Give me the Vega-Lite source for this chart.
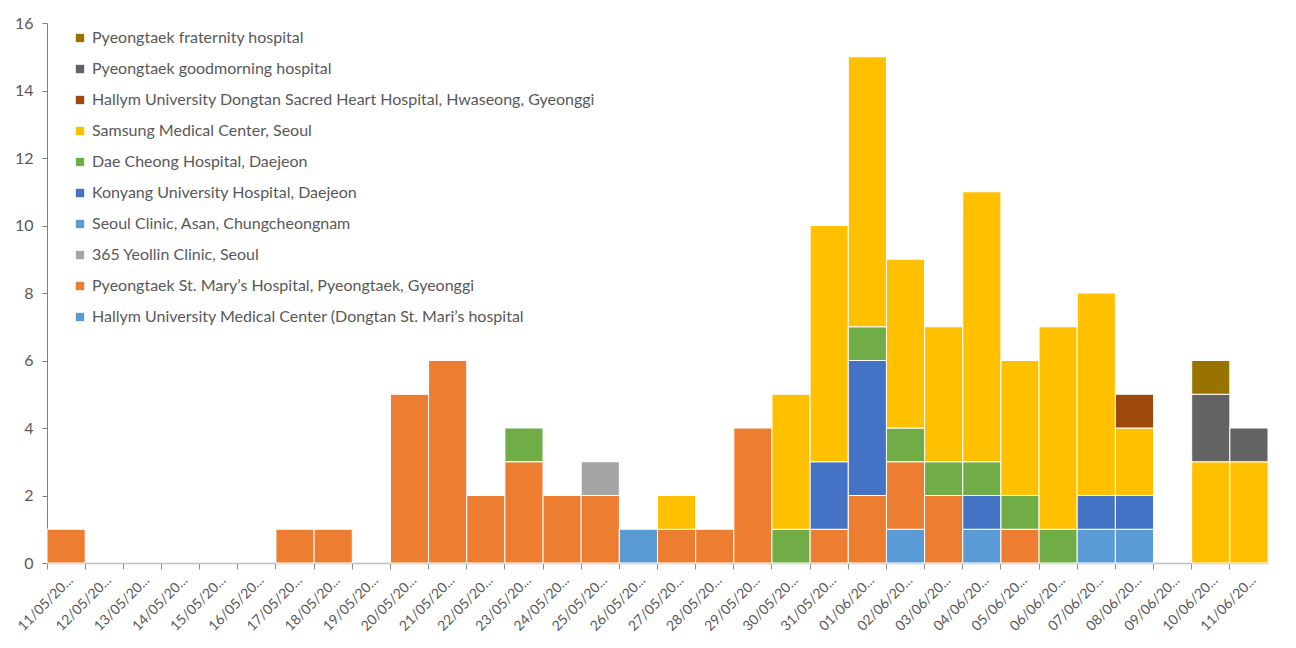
{
  "$schema": "https://vega.github.io/schema/vega-lite/v6.json",
  "width": 1221,
  "height": 540,
  "autosize": "none",
  "padding": {"left": 47, "top": 23, "right": 28, "bottom": 85},
  "background": "white",
  "config": {"view": {"stroke": null}, "font": "Lato"},
  "data": {"values": [
    {"date": "11/05/2015", "hospital": "Pyeongtaek St. Mary’s Hospital, Pyeongtaek, Gyeonggi", "n": 1},
    {"date": "17/05/2015", "hospital": "Pyeongtaek St. Mary’s Hospital, Pyeongtaek, Gyeonggi", "n": 1},
    {"date": "18/05/2015", "hospital": "Pyeongtaek St. Mary’s Hospital, Pyeongtaek, Gyeonggi", "n": 1},
    {"date": "20/05/2015", "hospital": "Pyeongtaek St. Mary’s Hospital, Pyeongtaek, Gyeonggi", "n": 5},
    {"date": "21/05/2015", "hospital": "Pyeongtaek St. Mary’s Hospital, Pyeongtaek, Gyeonggi", "n": 6},
    {"date": "22/05/2015", "hospital": "Pyeongtaek St. Mary’s Hospital, Pyeongtaek, Gyeonggi", "n": 2},
    {"date": "23/05/2015", "hospital": "Pyeongtaek St. Mary’s Hospital, Pyeongtaek, Gyeonggi", "n": 3},
    {"date": "23/05/2015", "hospital": "Dae Cheong Hospital, Daejeon", "n": 1},
    {"date": "24/05/2015", "hospital": "Pyeongtaek St. Mary’s Hospital, Pyeongtaek, Gyeonggi", "n": 2},
    {"date": "25/05/2015", "hospital": "Pyeongtaek St. Mary’s Hospital, Pyeongtaek, Gyeonggi", "n": 2},
    {"date": "25/05/2015", "hospital": "365 Yeollin Clinic, Seoul", "n": 1},
    {"date": "26/05/2015", "hospital": "Hallym University Medical Center (Dongtan St. Mari’s hospital", "n": 1},
    {"date": "27/05/2015", "hospital": "Pyeongtaek St. Mary’s Hospital, Pyeongtaek, Gyeonggi", "n": 1},
    {"date": "27/05/2015", "hospital": "Samsung Medical Center, Seoul", "n": 1},
    {"date": "28/05/2015", "hospital": "Pyeongtaek St. Mary’s Hospital, Pyeongtaek, Gyeonggi", "n": 1},
    {"date": "29/05/2015", "hospital": "Pyeongtaek St. Mary’s Hospital, Pyeongtaek, Gyeonggi", "n": 4},
    {"date": "30/05/2015", "hospital": "Dae Cheong Hospital, Daejeon", "n": 1},
    {"date": "30/05/2015", "hospital": "Samsung Medical Center, Seoul", "n": 4},
    {"date": "31/05/2015", "hospital": "Pyeongtaek St. Mary’s Hospital, Pyeongtaek, Gyeonggi", "n": 1},
    {"date": "31/05/2015", "hospital": "Konyang University Hospital, Daejeon", "n": 2},
    {"date": "31/05/2015", "hospital": "Samsung Medical Center, Seoul", "n": 7},
    {"date": "01/06/2015", "hospital": "Pyeongtaek St. Mary’s Hospital, Pyeongtaek, Gyeonggi", "n": 2},
    {"date": "01/06/2015", "hospital": "Konyang University Hospital, Daejeon", "n": 4},
    {"date": "01/06/2015", "hospital": "Dae Cheong Hospital, Daejeon", "n": 1},
    {"date": "01/06/2015", "hospital": "Samsung Medical Center, Seoul", "n": 8},
    {"date": "02/06/2015", "hospital": "Hallym University Medical Center (Dongtan St. Mari’s hospital", "n": 1},
    {"date": "02/06/2015", "hospital": "Pyeongtaek St. Mary’s Hospital, Pyeongtaek, Gyeonggi", "n": 2},
    {"date": "02/06/2015", "hospital": "Dae Cheong Hospital, Daejeon", "n": 1},
    {"date": "02/06/2015", "hospital": "Samsung Medical Center, Seoul", "n": 5},
    {"date": "03/06/2015", "hospital": "Pyeongtaek St. Mary’s Hospital, Pyeongtaek, Gyeonggi", "n": 2},
    {"date": "03/06/2015", "hospital": "Dae Cheong Hospital, Daejeon", "n": 1},
    {"date": "03/06/2015", "hospital": "Samsung Medical Center, Seoul", "n": 4},
    {"date": "04/06/2015", "hospital": "Hallym University Medical Center (Dongtan St. Mari’s hospital", "n": 1},
    {"date": "04/06/2015", "hospital": "Konyang University Hospital, Daejeon", "n": 1},
    {"date": "04/06/2015", "hospital": "Dae Cheong Hospital, Daejeon", "n": 1},
    {"date": "04/06/2015", "hospital": "Samsung Medical Center, Seoul", "n": 8},
    {"date": "05/06/2015", "hospital": "Pyeongtaek St. Mary’s Hospital, Pyeongtaek, Gyeonggi", "n": 1},
    {"date": "05/06/2015", "hospital": "Dae Cheong Hospital, Daejeon", "n": 1},
    {"date": "05/06/2015", "hospital": "Samsung Medical Center, Seoul", "n": 4},
    {"date": "06/06/2015", "hospital": "Dae Cheong Hospital, Daejeon", "n": 1},
    {"date": "06/06/2015", "hospital": "Samsung Medical Center, Seoul", "n": 6},
    {"date": "07/06/2015", "hospital": "Hallym University Medical Center (Dongtan St. Mari’s hospital", "n": 1},
    {"date": "07/06/2015", "hospital": "Konyang University Hospital, Daejeon", "n": 1},
    {"date": "07/06/2015", "hospital": "Samsung Medical Center, Seoul", "n": 6},
    {"date": "08/06/2015", "hospital": "Hallym University Medical Center (Dongtan St. Mari’s hospital", "n": 1},
    {"date": "08/06/2015", "hospital": "Konyang University Hospital, Daejeon", "n": 1},
    {"date": "08/06/2015", "hospital": "Samsung Medical Center, Seoul", "n": 2},
    {"date": "08/06/2015", "hospital": "Hallym University Dongtan Sacred Heart Hospital, Hwaseong, Gyeonggi", "n": 1},
    {"date": "10/06/2015", "hospital": "Samsung Medical Center, Seoul", "n": 3},
    {"date": "10/06/2015", "hospital": "Pyeongtaek goodmorning hospital", "n": 2},
    {"date": "10/06/2015", "hospital": "Pyeongtaek fraternity hospital", "n": 1},
    {"date": "11/06/2015", "hospital": "Samsung Medical Center, Seoul", "n": 3},
    {"date": "11/06/2015", "hospital": "Pyeongtaek goodmorning hospital", "n": 1}
  ]},
  "transform": [
    {"calculate": "indexof(['Pyeongtaek fraternity hospital','Pyeongtaek goodmorning hospital','Hallym University Dongtan Sacred Heart Hospital, Hwaseong, Gyeonggi','Samsung Medical Center, Seoul','Dae Cheong Hospital, Daejeon','Konyang University Hospital, Daejeon','Seoul Clinic, Asan, Chungcheongnam','365 Yeollin Clinic, Seoul','Pyeongtaek St. Mary’s Hospital, Pyeongtaek, Gyeonggi','Hallym University Medical Center (Dongtan St. Mari’s hospital'], datum.hospital)", "as": "stackRank"}
  ],
  "mark": {"type": "bar", "stroke": "white", "strokeWidth": 1},
  "encoding": {
    "x": {
      "field": "date", "type": "nominal",
      "scale": {"domain": ["11/05/2015","12/05/2015","13/05/2015","14/05/2015","15/05/2015","16/05/2015","17/05/2015","18/05/2015","19/05/2015","20/05/2015","21/05/2015","22/05/2015","23/05/2015","24/05/2015","25/05/2015","26/05/2015","27/05/2015","28/05/2015","29/05/2015","30/05/2015","31/05/2015","01/06/2015","02/06/2015","03/06/2015","04/06/2015","05/06/2015","06/06/2015","07/06/2015","08/06/2015","09/06/2015","10/06/2015","11/06/2015"], "paddingInner": 0, "paddingOuter": 0},
      "axis": {
        "title": null, "labelAngle": -45, "labelAlign": "right", "labelBaseline": "top",
        "labelExpr": "slice(datum.label, 0, 8) + '...'",
        "labelFontSize": 14, "labelColor": "#595959", "labelPadding": 4, "labelDx": 5,
        "domainColor": "#BFBFBF", "domainWidth": 1.5, "tickColor": "#8C8C8C", "tickSize": 6,
        "bandPosition": 0, "labelFont": "Lato"
      }
    },
    "y": {
      "field": "n", "type": "quantitative", "stack": "zero",
      "scale": {"domain": [0, 16], "nice": false},
      "axis": {"title": null, "values": [0,2,4,6,8,10,12,14,16], "grid": false,
        "domain": true, "domainColor": "#7F7F7F", "domainWidth": 1, "ticks": true, "tickColor": "#7F7F7F", "tickSize": 5,
        "labelFontSize": 16, "labelColor": "#595959", "labelPadding": 9, "labelFont": "Lato"}
    },
    "color": {
      "field": "hospital", "type": "nominal",
      "scale": {
        "domain": ["Pyeongtaek fraternity hospital","Pyeongtaek goodmorning hospital","Hallym University Dongtan Sacred Heart Hospital, Hwaseong, Gyeonggi","Samsung Medical Center, Seoul","Dae Cheong Hospital, Daejeon","Konyang University Hospital, Daejeon","Seoul Clinic, Asan, Chungcheongnam","365 Yeollin Clinic, Seoul","Pyeongtaek St. Mary’s Hospital, Pyeongtaek, Gyeonggi","Hallym University Medical Center (Dongtan St. Mari’s hospital"],
        "range": ["#997300","#636363","#9E480E","#FFC000","#70AD47","#4472C4","#5B9BD5","#A5A5A5","#ED7D31","#5A9BD6"]
      },
      "legend": {
        "title": null, "orient": "none", "legendX": 25, "legendY": 7,
        "symbolType": "square", "symbolSize": 70, "symbolStrokeWidth": 0, "symbolOpacity": 1,
        "labelFontSize": 16, "labelColor": "#595959", "labelFont": "Lato", "labelLimit": 700,
        "rowPadding": 15, "labelOffset": 4
      }
    },
    "order": {"field": "stackRank", "type": "quantitative", "sort": "descending"}
  }
}
